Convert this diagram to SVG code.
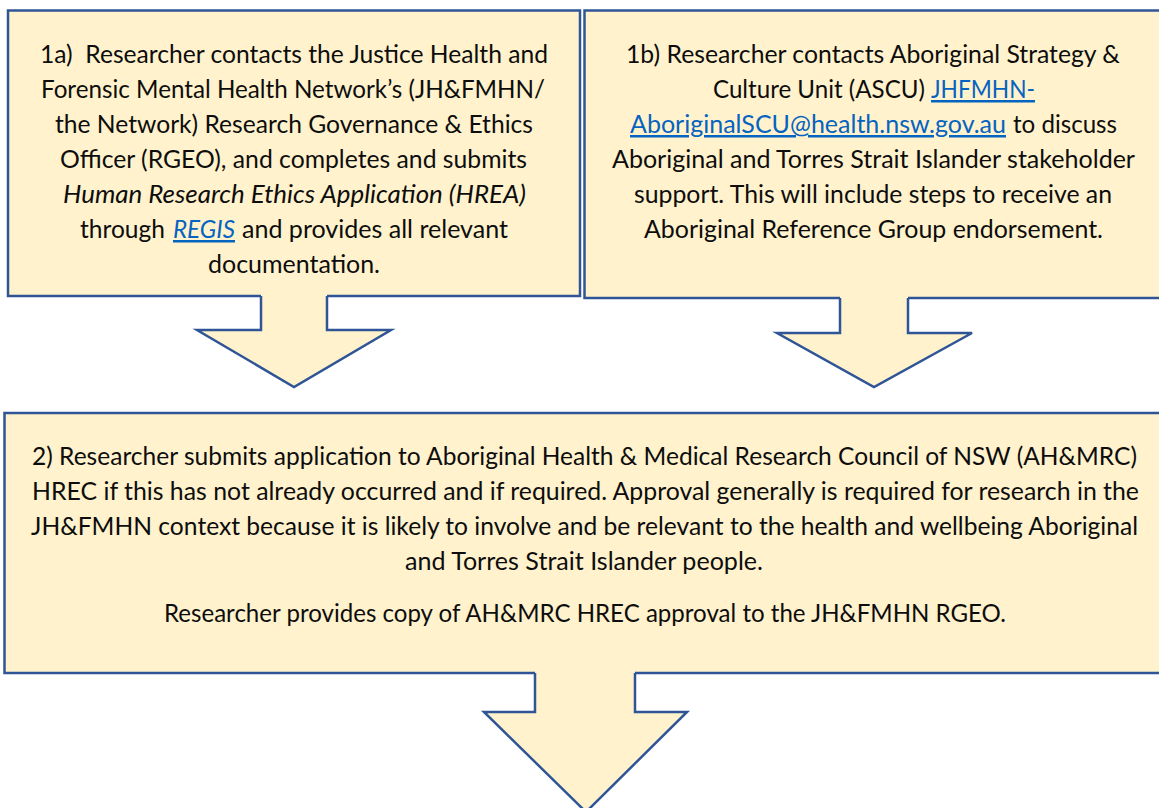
<svg xmlns="http://www.w3.org/2000/svg" width="1159" height="808" viewBox="0 0 1159 808">
<style>
.box{fill:#FFF2CC;stroke:#2F5597;stroke-width:2.5}
.afill{fill:#FFF2CC;stroke:none}
.aline{fill:none;stroke:#2F5597;stroke-width:2.5;stroke-linejoin:miter}
text{font-family:Lato,"Open Sans","Liberation Sans",sans-serif;font-size:25px;fill:#0D0D0D}
.it{font-style:italic}
.lk{fill:#0563C1;text-decoration:underline}
</style>
<rect width="1159" height="808" fill="#FFFFFF"/>
<g id="node-1a">
<rect class="box" x="8" y="10.5" width="572" height="285.5"/>
<text x="40" y="63" textLength="508" lengthAdjust="spacingAndGlyphs">1a)&#160; Researcher contacts the Justice Health and</text>
<text x="41" y="98" textLength="504" lengthAdjust="spacingAndGlyphs">Forensic Mental Health Network’s (JH&amp;FMHN/</text>
<text x="55" y="133" textLength="478" lengthAdjust="spacingAndGlyphs">the Network) Research Governance &amp; Ethics</text>
<text x="60" y="168" textLength="467" lengthAdjust="spacingAndGlyphs">Officer (RGEO), and completes and submits</text>
<text class="it" x="63" y="203" textLength="463" lengthAdjust="spacingAndGlyphs">Human Research Ethics Application (HREA)</text>
<text x="80" y="238" textLength="85" lengthAdjust="spacingAndGlyphs">through</text>
<text class="it lk" x="173" y="238" textLength="62" lengthAdjust="spacingAndGlyphs">REGIS</text>
<text x="242" y="238" textLength="266" lengthAdjust="spacingAndGlyphs">and provides all relevant</text>
<text x="208" y="273" textLength="172" lengthAdjust="spacingAndGlyphs">documentation.</text>
</g>
<g id="node-1b">
<rect class="box" x="584.5" y="10.5" width="600" height="287.5"/>
<text x="626" y="63" textLength="494" lengthAdjust="spacingAndGlyphs">1b) Researcher contacts Aboriginal Strategy &amp;</text>
<text x="713" y="98" textLength="212" lengthAdjust="spacingAndGlyphs">Culture Unit (ASCU)</text>
<text class="lk" x="931" y="98" textLength="104" lengthAdjust="spacingAndGlyphs">JHFMHN-</text>
<text class="lk" x="630" y="133" textLength="376" lengthAdjust="spacingAndGlyphs">AboriginalSCU@health.nsw.gov.au</text>
<text x="1013" y="133" textLength="104" lengthAdjust="spacingAndGlyphs">to discuss</text>
<text x="612" y="168" textLength="523" lengthAdjust="spacingAndGlyphs">Aboriginal and Torres Strait Islander stakeholder</text>
<text x="634" y="203" textLength="478" lengthAdjust="spacingAndGlyphs">support. This will include steps to receive an</text>
<text x="644" y="238" textLength="459" lengthAdjust="spacingAndGlyphs">Aboriginal Reference Group endorsement.</text>
</g>
<g id="node-2">
<rect class="box" x="4.5" y="413" width="1170" height="260"/>
<text x="32" y="465" textLength="1105" lengthAdjust="spacingAndGlyphs">2) Researcher submits application to Aboriginal Health &amp; Medical Research Council of NSW (AH&amp;MRC)</text>
<text x="32" y="500" textLength="1107" lengthAdjust="spacingAndGlyphs">HREC if this has not already occurred and if required. Approval generally is required for research in the</text>
<text x="31" y="535" textLength="1107" lengthAdjust="spacingAndGlyphs">JH&amp;FMHN context because it is likely to involve and be relevant to the health and wellbeing Aboriginal</text>
<text x="405" y="570" textLength="358" lengthAdjust="spacingAndGlyphs">and Torres Strait Islander people.</text>
<text x="164" y="622" textLength="842" lengthAdjust="spacingAndGlyphs">Researcher provides copy of AH&amp;MRC HREC approval to the JH&amp;FMHN RGEO.</text>
</g>
<g id="connectors">
<g id="arrow-1a">
<polygon class="afill" points="261,293 327,293 327,330 391,330 294,387 197,330 261,330"/>
<polyline class="aline" points="261,296 261,330 197,330 294,387 391,330 327,330 327,296"/>
</g>
<g id="arrow-1b">
<polygon class="afill" points="840,295 908,295 908,333 972,333 874,387 777,333 840,333"/>
<polyline class="aline" points="840,298 840,333 777,333 874,387 972,333 908,333 908,298"/>
</g>
<g id="arrow-2">
<polygon class="afill" points="535,670 635,670 635,712 687,712 586,812 484,712 535,712"/>
<polyline class="aline" points="535,673 535,712 484,712 586,812 687,712 635,712 635,673"/>
</g>
</g>
</svg>
